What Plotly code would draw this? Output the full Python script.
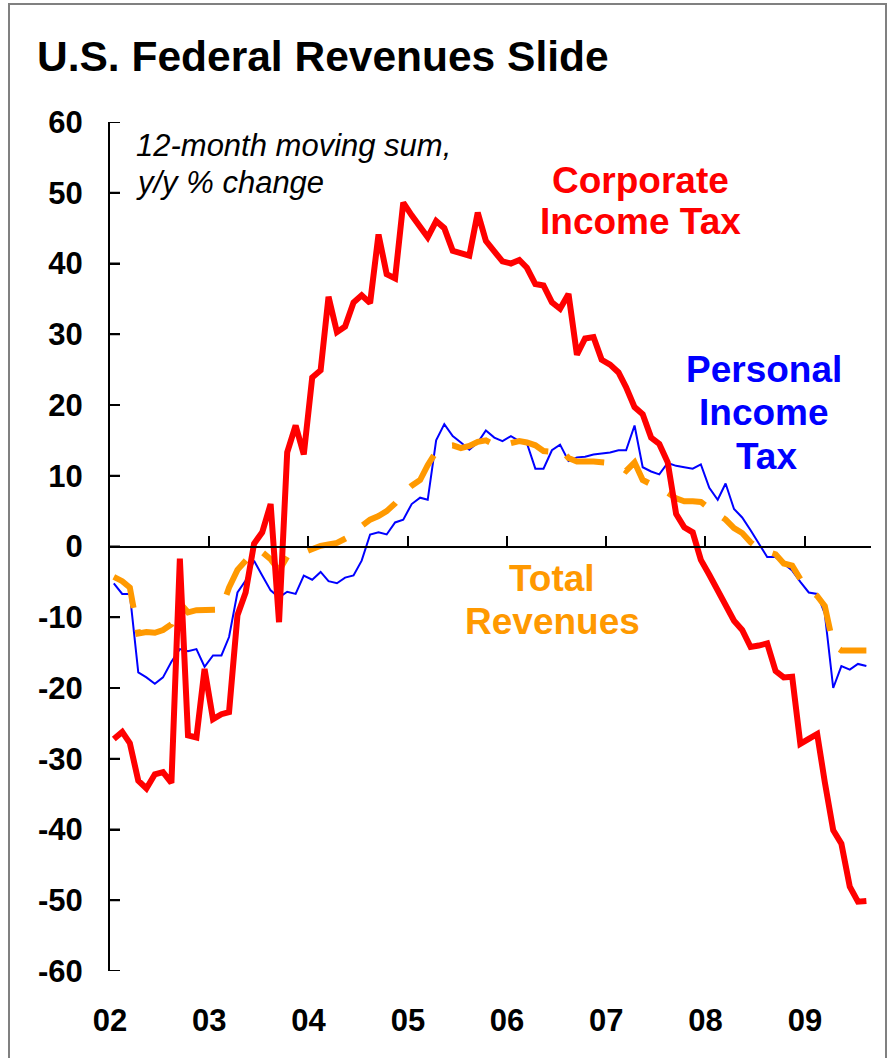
import pandas as pd
import plotly.graph_objects as go

# ---------------- data (12-month moving sum, y/y % change) ----------------
months = pd.date_range("2002-01-01", "2009-08-01", freq="MS") + pd.Timedelta(days=14)

corporate_income_tax = [
    -27.2, -26.2, -27.8, -33.1, -34.2, -32.2, -31.9, -33.4, -1.7, -26.7, -27.0, -17.3,
    -24.4, -23.7, -23.4, -9.7, -6.5, 0.4, 2.0, 6.0, -10.7, 13.3, 17.1, 13.0,
    23.9, 24.9, 35.3, 30.3, 31.1, 34.5, 35.5, 34.4, 44.1, 38.5, 37.9, 48.6,
    46.8, 45.3, 43.7, 46.0, 45.0, 41.8, 41.5, 41.1, 47.2, 43.2, 41.7, 40.3,
    40.0, 40.5, 39.4, 37.1, 36.9, 34.5, 33.6, 35.7, 27.1, 29.4, 29.6, 26.4,
    25.7, 24.6, 22.5, 19.7, 18.7, 15.4, 14.5, 11.9, 4.6, 2.7, 2.0, -1.9,
    -4.0, -6.2, -8.7, -10.5, -11.8, -14.2, -14.0, -13.7, -17.6, -18.5, -18.4, -27.9,
    -27.2, -26.5, -33.3, -40.1, -42.0, -48.1, -50.2, -50.1,
]

personal_income_tax = [
    -5.2, -6.7, -6.7, -17.8, -18.5, -19.4, -18.5, -16.3, -14.5, -14.8, -14.5, -17.0,
    -15.4, -15.4, -12.8, -6.5, -4.8, -2.0, -4.1, -6.2, -7.2, -6.4, -6.7, -4.1,
    -4.7, -3.6, -4.9, -5.2, -4.4, -4.1, -2.0, 1.7, 2.0, 1.7, 3.4, 3.8,
    6.0, 6.9, 6.6, 15.0, 17.3, 15.6, 14.7, 13.7, 14.7, 16.4, 15.4, 14.9,
    15.6, 14.9, 14.6, 11.0, 11.0, 13.6, 14.4, 12.1, 12.6, 12.7, 13.0, 13.1,
    13.3, 13.6, 13.6, 17.1, 11.2, 10.6, 10.2, 11.8, 11.4, 11.2, 11.0, 11.6,
    8.3, 6.6, 8.9, 5.3, 4.1, 2.3, 0.4, -1.5, -1.5, -2.5, -3.4, -5.0,
    -6.5, -6.7, -9.5, -20.0, -16.9, -17.4, -16.6, -16.9,
]

total_revenues = [
    -4.3, -4.9, -5.8, -12.3, -12.1, -12.2, -11.8, -11.0, -8.0, -9.3, -9.0, -8.9,
    -8.9, -8.9, -5.8, -3.3, -2.0, -0.6, -0.8, -1.8, -3.4, -1.4, -1.3, -0.8,
    -0.2, 0.1, 0.3, 0.5, 1.1, 1.7, 2.9, 3.8, 4.3, 5.0, 6.1, 7.5,
    8.6, 9.4, 11.5, 13.4, 14.2, 14.3, 13.9, 14.2, 14.8, 15.0, 14.4, 14.3,
    14.6, 14.9, 14.7, 14.3, 13.5, 13.4, 13.9, 12.5, 12.0, 12.1, 12.0, 11.9,
    11.8, 11.4, 10.7, 11.9, 9.4, 8.8, 8.3, 7.6, 6.8, 6.4, 6.4, 6.3,
    5.4, 4.6, 3.8, 2.6, 1.9, 0.6, -0.3, -0.7, -1.1, -2.4, -2.7, -4.6,
    -6.0, -7.0, -8.4, -13.9, -14.7, -14.7, -14.7, -14.7,
]

x_tick_vals = ["2002-01-01", "2003-01-01", "2004-01-01", "2005-01-01",
               "2006-01-01", "2007-01-01", "2008-01-01", "2009-01-01"]
x_tick_labels = ["02", "03", "04", "05", "06", "07", "08", "09"]
y_tick_vals = [60, 50, 40, 30, 20, 10, 0, -10, -20, -30, -40, -50, -60]
y_tick_labels = ["60", "50", "40", "30", "20", "10", "0", "-10", "-20", "-30", "-40", "-50", "-60"]
x_range = ["2002-01-01", "2009-09-01"]

# ---------------- layout geometry ----------------
W, H = 895, 1058
L, R, T, B = 110, 871, 122, 971
FONT = "Liberation Sans, Arial, sans-serif"
RED, BLUE, ORANGE = "#FF0000", "#0000FF", "#FF9900"
TICK_LEN = 10


def fx(p):
    return (p - L) / (R - L)


def fy(p):
    return (B - p) / (B - T)


fig = go.Figure()
fig.add_trace(go.Scatter(x=months, y=personal_income_tax, mode="lines",
                         line=dict(color=BLUE, width=2), name="Personal Income Tax"))
fig.add_trace(go.Scatter(x=months, y=total_revenues, mode="lines",
                         line=dict(color=ORANGE, width=6, dash="40px,22px"), name="Total Revenues"))
fig.add_trace(go.Scatter(x=months, y=corporate_income_tax, mode="lines",
                         line=dict(color=RED, width=6), name="Corporate Income Tax"))


def ann(text, x, y, size, color="black", anchor="center", weight="bold", style="normal"):
    return dict(text=text, x=fx(x), y=fy(y), xref="paper", yref="paper",
                xanchor=anchor, yanchor="middle", showarrow=False,
                font=dict(family=FONT, size=size, color=color, weight=weight, style=style))


annotations = [
    ann("U.S. Federal Revenues Slide", 35, 57, 42.5, anchor="left"),
    ann("12-month moving sum,", 134, 146, 31, anchor="left", weight="normal", style="italic"),
    ann("y/y % change", 134, 183, 31, anchor="left", weight="normal", style="italic"),
    ann("Corporate", 640, 180, 37, RED),
    ann("Income Tax", 640, 222, 37, RED),
    ann("Personal", 764, 369, 37, BLUE),
    ann("Income", 764, 412, 37, BLUE),
    ann("Tax", 766, 456, 37, BLUE),
    ann("Total", 552, 578, 37, ORANGE),
    ann("Revenues", 552, 621, 37, ORANGE),
]

# outer frame
shapes = [dict(type="rect", xref="paper", yref="paper",
               x0=fx(9), x1=fx(886), y0=fy(1080), y1=fy(4),
               line=dict(color="#808080", width=2), fillcolor="rgba(0,0,0,0)", layer="above")]
# inward y-axis tick marks, placed on the y scale at the tick values
for v in y_tick_vals:
    shapes.append(dict(type="line", xref="paper", yref="y",
                       x0=0, x1=TICK_LEN / (R - L), y0=v, y1=v,
                       line=dict(color="black", width=2), layer="above"))

fig.update_layout(
    width=W, height=H,
    margin=dict(l=L, r=W - R, t=T, b=H - B, pad=0),
    paper_bgcolor="white", plot_bgcolor="rgba(0,0,0,0)",
    showlegend=False,
    font=dict(family=FONT, color="black"),
    annotations=annotations,
    shapes=shapes,
    xaxis=dict(
        type="date", range=x_range, tickmode="array",
        tickvals=x_tick_vals, ticktext=x_tick_labels,
        anchor="free", position=0.5, side="bottom",
        ticks="inside", ticklen=TICK_LEN, tickwidth=2, tickcolor="black",
        showline=True, linecolor="black", linewidth=2,
        showgrid=False, zeroline=False,
        tickfont=dict(family=FONT, size=31, color="black", weight="bold"),
        ticklabelstandoff=446,
    ),
    yaxis=dict(
        range=[-60, 60], tickmode="array", tickvals=y_tick_vals, ticktext=y_tick_labels,
        ticks="inside", ticklen=TICK_LEN, tickwidth=2, tickcolor="black",
        showline=True, linecolor="black", linewidth=2,
        showgrid=False, zeroline=False,
        tickfont=dict(family=FONT, size=31, color="black", weight="bold"),
        ticklabelstandoff=19,
    ),
)

fig.write_html("out.html", config={"displayModeBar": False},
               post_script="document.body.style.margin='0px';document.body.style.overflow='hidden';")
